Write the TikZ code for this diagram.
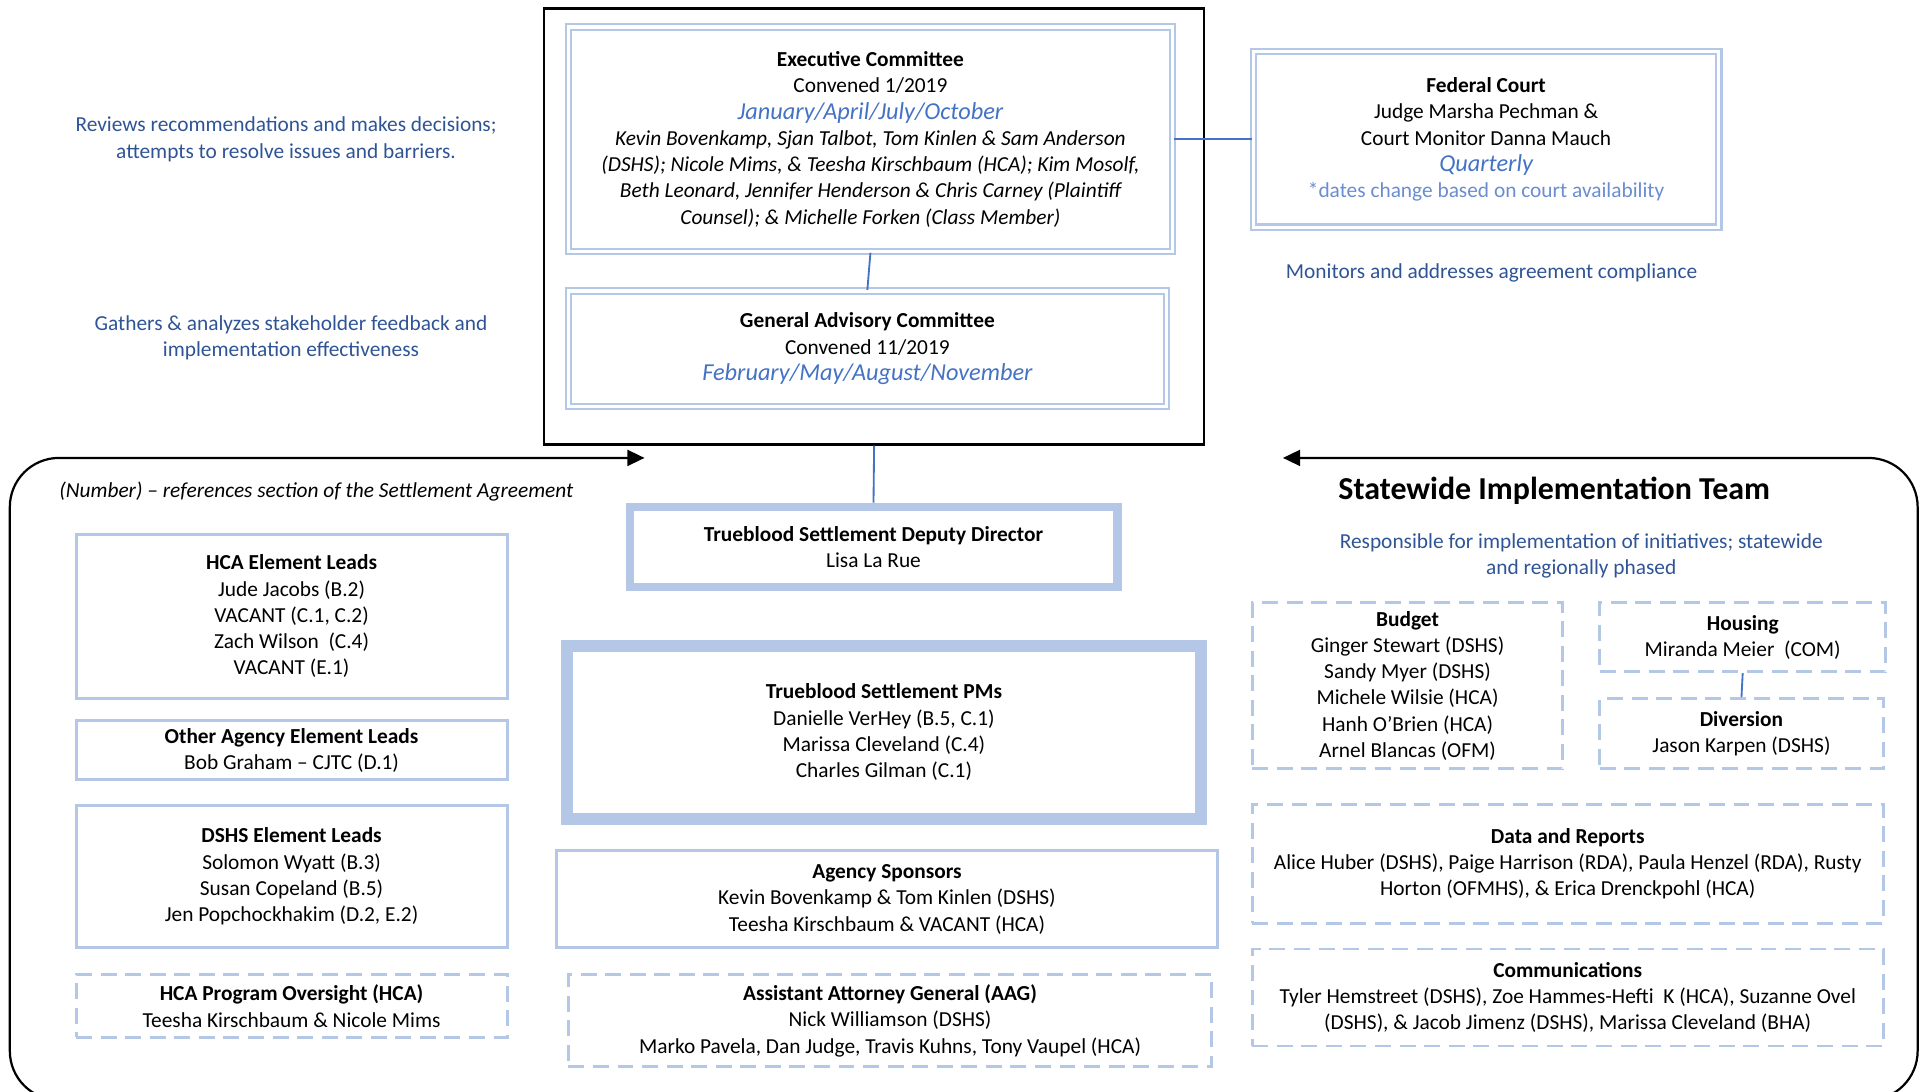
\documentclass[tikz,border=0pt]{standalone}
\usepackage{fontspec}
\setmainfont{Carlito}
\usetikzlibrary{arrows.meta}
\definecolor{boxblue}{HTML}{B4C7E7}
\definecolor{lineblue}{HTML}{4472C4}
\definecolor{noteblue}{HTML}{2F5496}
\definecolor{monthblue}{HTML}{4472C4}
\definecolor{dateblue}{HTML}{6A8DD0}
\newcommand{\meetings}[1]{{\fontsize{9.9}{11}\selectfont\itshape\color{monthblue}#1}}

\begin{document}
\begin{tikzpicture}[x=0.5pt,y=-0.5pt,
        every node/.style={font=\fontsize{8.7}{10.7}\selectfont, align=center, inner sep=0pt},
        solidbox/.style={draw=boxblue, line width=1.2pt},
        dashbox/.style={draw=boxblue, line width=1.2pt, dash pattern=on 6.5pt off 3.5pt},
        dblbox/.style={draw=boxblue, line width=0.9pt, double=white, double distance=1.3pt},
        heavybox/.style={draw=boxblue, line width=#1},
        note/.style={text=noteblue},
        link/.style={draw=lineblue, line width=0.75pt}]
        \useasboundingbox (0,0) rectangle (1568,889);

        % committees and court
        \node[draw=black, line width=0.9pt, minimum width=269pt, minimum height=177.5pt] (council) at (712,184.5) {};
        \node[dblbox, minimum width=246pt, minimum height=91.5pt] (exec) at (709,113.5) {\textbf{Executive Committee}\\
            Convened 1/2019\\
            \meetings{January/April/July/October}\\
            \itshape Kevin Bovenkamp, Sjan Talbot, Tom Kinlen \& Sam Anderson\\
            \itshape (DSHS); Nicole Mims, \& Teesha Kirschbaum (HCA); Kim Mosolf,\\
            \itshape Beth Leonard, Jennifer Henderson \& Chris Carney (Plaintiff\\
            \itshape Counsel); \& Michelle Forken (Class Member)};
        \node[dblbox, minimum width=243.5pt, minimum height=47pt] (gac) at (706.5,284) {\textbf{General Advisory Committee}\\
            Convened 11/2019\\
            \meetings{February/May/August/November}};
        \node[dblbox, minimum width=189.5pt, minimum height=71.5pt] (court) at (1210.5,113.5) {\textbf{Federal Court}\\
            Judge Marsha Pechman \&\\
            Court Monitor Danna Mauch\\
            \meetings{Quarterly}\\
            \color{dateblue}*dates change based on court availability};

        \node[note] (decide) at (233,113.5) {Reviews recommendations and makes decisions;\\attempts to resolve issues and barriers.};
        \node[note] (gather) at (237,275) {Gathers \& analyzes stakeholder feedback and\\implementation effectiveness};
        \node[note] (monitor) at (1215,222) {Monitors and addresses agreement compliance};

        % statewide team frame
        \draw[line width=0.9pt, rounded corners=20pt, {Triangle[length=7pt,width=6.5pt]}-{Triangle[length=7pt,width=6.5pt]}]
            (525,373) -- (8,373) -- (8,896) -- (1562,896) -- (1562,373) -- (1045,373);
        \node[anchor=west] (legend) at (48,400) {\itshape (Number) – references section of the Settlement Agreement};
        \node[font=\fontsize{13}{15}\selectfont\bfseries] (teamtitle) at (1266,400) {Statewide Implementation Team};
        \node[note] (teamnote) at (1288,453) {Responsible for implementation of initiatives; statewide\\and regionally phased};

        % left column
        \node[solidbox, minimum width=175.5pt, minimum height=67pt] (hcaleads) at (237.5,502) {\textbf{HCA Element Leads}\\
            Jude Jacobs (B.2)\\ VACANT (C.1, C.2)\\ Zach Wilson~ (C.4)\\ VACANT (E.1)};
        \node[solidbox, minimum width=175.5pt, minimum height=24pt] (otherleads) at (237.5,611) {\textbf{Other Agency Element Leads}\\
            Bob Graham – CJTC (D.1)};
        \node[solidbox, minimum width=175.5pt, minimum height=58pt] (dshsleads) at (237.5,714) {\textbf{DSHS Element Leads}\\
            Solomon Wyatt (B.3)\\ Susan Copeland (B.5)\\ Jen Popchockhakim (D.2, E.2)};
        \node[dashbox, minimum width=175.5pt, minimum height=25.5pt] (oversight) at (237.5,819.5) {\textbf{HCA Program Oversight (HCA)}\\
            Teesha Kirschbaum \& Nicole Mims};

        % middle column
        \node[heavybox=3.5pt, minimum width=198.5pt, minimum height=32.5pt] (deputy) at (711.5,445.5) {\textbf{Trueblood Settlement Deputy Director}\\ Lisa La Rue};
        \node[heavybox=5pt, minimum width=258pt, minimum height=70.5pt] (pms) at (720,596.5) {\textbf{Trueblood Settlement PMs}\\
            Danielle VerHey (B.5, C.1)\\ Marissa Cleveland (C.4)\\ Charles Gilman (C.1)};
        \node[solidbox, minimum width=269.5pt, minimum height=39.5pt] (sponsors) at (722.5,732.5) {\textbf{Agency Sponsors}\\
            Kevin Bovenkamp \& Tom Kinlen (DSHS)\\ Teesha Kirschbaum \& VACANT (HCA)};
        \node[dashbox, minimum width=262pt, minimum height=37.5pt] (aag) at (725,831.5) {\textbf{Assistant Attorney General (AAG)}\\
            Nick Williamson (DSHS)\\ Marko Pavela, Dan Judge, Travis Kuhns, Tony Vaupel (HCA)};

        % right column
        \node[dashbox, minimum width=126.5pt, minimum height=67.5pt] (budget) at (1146.5,558.5) {\textbf{Budget}\\
            Ginger Stewart (DSHS)\\ Sandy Myer (DSHS)\\ Michele Wilsie (HCA)\\ Hanh O’Brien (HCA)\\ Arnel Blancas (OFM)};
        \node[dashbox, minimum width=116.5pt, minimum height=28pt] (housing) at (1419.5,519) {\textbf{Housing}\\ Miranda Meier~ (COM)};
        \node[dashbox, minimum width=115.5pt, minimum height=28.5pt] (diversion) at (1418.5,597.5) {\textbf{Diversion}\\ Jason Karpen (DSHS)};
        \node[dashbox, minimum width=257pt, minimum height=48.5pt] (datarep) at (1277,703.5) {\textbf{Data and Reports}\\
            Alice Huber (DSHS), Paige Harrison (RDA), Paula Henzel (RDA), Rusty\\
            Horton (OFMHS), \& Erica Drenckpohl (HCA)};
        \node[dashbox, minimum width=257pt, minimum height=39.5pt] (comms) at (1277,812.5) {\textbf{Communications}\\
            Tyler Hemstreet (DSHS), Zoe Hammes-Hefti~ K (HCA), Suzanne Ovel\\
            (DSHS), \& Jacob Jimenz (DSHS), Marissa Cleveland (BHA)};

        % connectors
        \draw[link] (exec.south) -- (gac.north);
        \draw[link] (exec.east) -- (court.west);
        \draw[link] (council.south) -- (deputy.north);
        \draw[link] (housing.south) -- (diversion.north);
    \end{tikzpicture}
\end{document}
